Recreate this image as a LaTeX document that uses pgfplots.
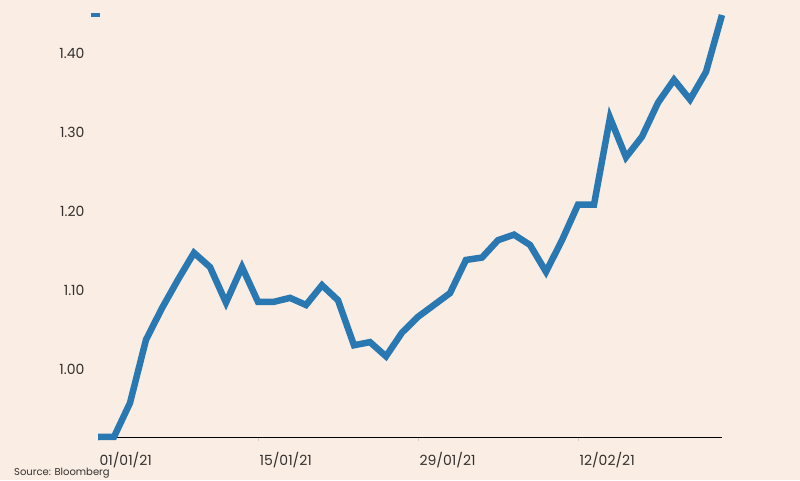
\documentclass[border=0pt]{standalone}
\usepackage{fontspec}
\setmainfont{Poppins}
\usepackage{pgfplots}
\pgfplotsset{compat=1.18}
\definecolor{bgc}{HTML}{FAEDE3}
\definecolor{linec}{HTML}{2A78B2}
\definecolor{txtc}{HTML}{33302E}
\definecolor{gridc}{HTML}{D8CDC4}
\begin{document}
\begin{tikzpicture}
\fill[bgc] (0pt,0pt) rectangle (800pt,480pt);
\begin{axis}[
  at={(98pt,43pt)}, anchor=south west,
  scale only axis, width=624pt, height=422pt,
  xmin=0, xmax=39, ymin=0.9139, ymax=1.448,
  clip=false,
  axis x line*=bottom, axis y line=none,
  x axis line style={draw=black, line width=1pt, -},
  xtick={0,10,20,30},
  xticklabels={01/01/21,15/01/21,29/01/21,12/02/21},
  major tick length=4pt,
  xtick style={draw=gridc, line width=0.8pt},
  tick align=outside,
  x tick label style={anchor=north west, xshift=-2pt, yshift=-8pt, font=\fontsize{14}{16}\selectfont, text=txtc},
  ytick={1.0,1.1,1.2,1.3,1.4},
  yticklabels={1.00,1.10,1.20,1.30,1.40},
  y tick label style={anchor=east, font=\fontsize{14}{16}\selectfont, text=txtc},
  ymajorgrids,
  grid style={draw=gridc, line width=0.9pt, dash pattern=on 3pt off 3pt},
  /pgf/number format/assume math mode=true,
  legend style={at={(axis cs:-0.56,1.448)}, anchor=west, draw=none, fill=none, inner sep=0pt, nodes={inner sep=0pt}},
  legend image code/.code={\draw[linec, line width=4pt] (0pt,0pt) -- (9pt,0pt);},
]
\addplot[linec, line width=6.5pt, line join=miter, line cap=butt] table {
x y
0 0.914
1 0.914
2 0.957
3 1.037
4 1.077
5 1.113
6 1.147
7 1.129
8 1.084
9 1.129
10 1.085
11 1.085
12 1.090
13 1.081
14 1.106
15 1.087
16 1.030
17 1.034
18 1.016
19 1.046
20 1.066
21 1.081
22 1.096
23 1.138
24 1.141
25 1.163
26 1.170
27 1.157
28 1.123
29 1.163
30 1.208
31 1.208
32 1.318
33 1.268
34 1.294
35 1.337
36 1.366
37 1.341
38 1.376
39 1.448
};
\addlegendentry{}
\end{axis}
\begin{axis}[
  at={(98pt,43pt)}, anchor=south west,
  scale only axis, width=624pt, height=422pt,
  xmin=0, xmax=39, ymin=0.9139, ymax=1.448,
  axis x line=none, axis y line*=left,
  y axis line style={draw=none},
  ytick={1.0,1.1,1.2,1.3,1.4},
  yticklabels={1.00,1.10,1.20,1.30,1.40},
  major tick length=0pt,
  y tick label style={anchor=east, xshift=-10pt, font=\fontsize{14}{16}\selectfont, text=txtc},
]
\end{axis}
\node[anchor=south west, inner sep=0pt, font=\fontsize{10}{12}\selectfont, text=txtc] at (14pt,1.5pt) {Source: Bloomberg};
\pgfresetboundingbox
\useasboundingbox (0pt,0pt) rectangle (800pt,480pt);
\end{tikzpicture}
\end{document}
